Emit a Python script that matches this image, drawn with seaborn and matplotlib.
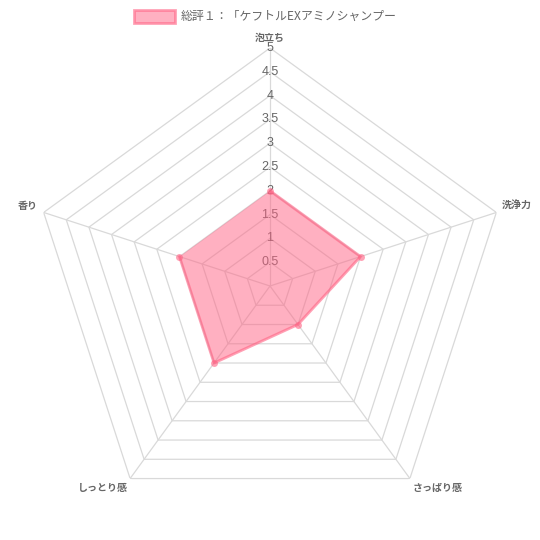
import numpy as np
import matplotlib
matplotlib.use('Agg')
import matplotlib.pyplot as plt
import seaborn as sns

sns.set_theme(style='white')
plt.rcParams['font.family'] = ['Noto Sans CJK JP', 'DejaVu Sans']

# データ
categories = ['泡立ち', '洗浄力', 'さっぱり感', 'しっとり感', '香り']
values = [2, 2, 1, 2, 2]
series_name = '総評１：「ケフトルEXアミノシャンプー'
ticks = [0.5, 1, 1.5, 2, 2.5, 3, 3.5, 4, 4.5, 5]
tick_labels = ['0.5', '1', '1.5', '2', '2.5', '3', '3.5', '4', '4.5', '5']

n = len(categories)
angles = np.linspace(0, 2 * np.pi, n, endpoint=False)
ang_c = np.append(angles, angles[0])
val_c = np.append(values, values[0])

fig = plt.figure(figsize=(5.4, 5.4), dpi=100)
r_ax = 238 / 540
ax = fig.add_axes([0.5 - r_ax, (540 - 286) / 540 - r_ax, 2 * r_ax, 2 * r_ax], projection='polar')
ax.set_theta_offset(np.pi / 2)
ax.set_theta_direction(-1)
ax.set_ylim(0, 5)
ax.grid(False)
ax.spines['polar'].set_visible(False)
ax.set_xticks([])
ax.set_yticks([])
ax.patch.set_alpha(0)

# 目盛り（五角形）
grid_col = '#d9d9d9'
for t in ticks:
    ax.plot(ang_c, [t] * (n + 1), color=grid_col, lw=0.9, zorder=1)
for a in angles:
    ax.plot([a, a], [0, 5], color=grid_col, lw=0.9, zorder=1)

# 目盛りラベル
for t, lab in zip(ticks, tick_labels):
    ax.text(0, t, lab, ha='center', va='center', fontsize=9, color='#666666',
            family=['Liberation Sans', 'DejaVu Sans'], zorder=2)

# データ
ax.fill(ang_c, val_c, color=(1, 99 / 255, 132 / 255, 0.5), zorder=3, lw=0)
sns.lineplot(x=ang_c, y=val_c, ax=ax, sort=False, color=(1, 99 / 255, 132 / 255, 0.6),
             lw=2, marker='o', markersize=5, markeredgewidth=0, zorder=4, legend=False)

# 軸ラベル
label_pos = [(270, 38, 'center'), (502, 206, 'left'), (438, 488, 'center'),
             (103, 488, 'center'), (38, 206, 'right')]
for (x, y, ha), c in zip(label_pos, categories):
    fig.text(x / 540, 1 - y / 540, c, ha=ha, va='center', fontsize=7.2,
             color='#666666', fontweight='bold')

# 凡例
fig.patches.append(plt.Rectangle((134 / 540, 1 - 23 / 540), 41 / 540, 13 / 540,
                                 transform=fig.transFigure, facecolor=(1, 99 / 255, 132 / 255, 0.5),
                                 edgecolor=(1, 99 / 255, 132 / 255, 0.6), lw=2))
fig.text(181 / 540, 1 - 16 / 540, series_name, ha='left', va='center', fontsize=8.6, color='#666666')

fig.savefig('out.png', dpi=100)
